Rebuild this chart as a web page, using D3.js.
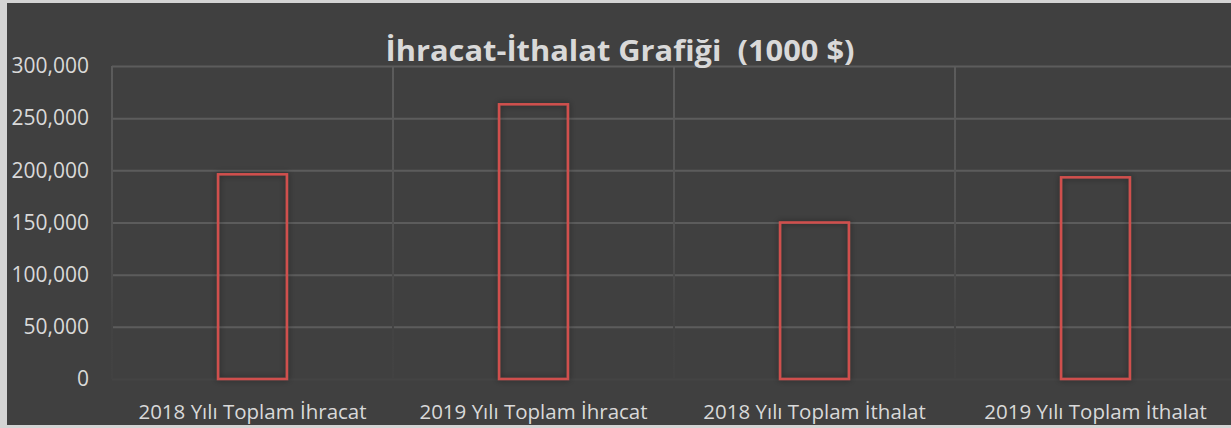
<!DOCTYPE html>
<html><head><meta charset="utf-8">
<script src="https://cdn.jsdelivr.net/npm/d3@7"></script>
<style>
html,body{margin:0;padding:0;background:#d4d4d4;}
svg{display:block;}
</style></head>
<body>
<svg id="chart" width="1231" height="428"></svg>
<script>
const title = "İhracat-İthalat Grafiği  (1000 $)";
const categories = ["2018 Yılı Toplam İhracat", "2019 Yılı Toplam İhracat", "2018 Yılı Toplam İthalat", "2019 Yılı Toplam İthalat"];
const values = [196200, 263300, 150000, 193300];
const yTicks = [0, 50000, 100000, 150000, 200000, 250000, 300000];

const svg = d3.select("#chart");
const W = 1231, H = 428;
const plot = {left: 112, right: 1236, top: 66, bottom: 379};
const font = "'Open Sans', 'Noto Sans', sans-serif";

const defs = svg.append("defs");
const grad = defs.append("linearGradient").attr("id", "gridFade")
  .attr("gradientUnits", "userSpaceOnUse")
  .attr("x1", 0).attr("y1", plot.top).attr("x2", 0).attr("y2", plot.bottom);
grad.append("stop").attr("offset", "0%").attr("stop-color", "#5c5c5c");
grad.append("stop").attr("offset", "50%").attr("stop-color", "#535353");
grad.append("stop").attr("offset", "67%").attr("stop-color", "#4b4b4b");
grad.append("stop").attr("offset", "84%").attr("stop-color", "#434343");
grad.append("stop").attr("offset", "100%").attr("stop-color", "#424242");
const flt = defs.append("filter").attr("id", "glow").attr("x", "-20%").attr("y", "-20%").attr("width", "140%").attr("height", "140%");
flt.append("feGaussianBlur").attr("in", "SourceAlpha").attr("stdDeviation", 3).attr("result", "b");
flt.append("feComponentTransfer").attr("in", "b").attr("result", "s")
  .append("feFuncA").attr("type", "linear").attr("slope", 0.5);
const mg = flt.append("feMerge");
mg.append("feMergeNode").attr("in", "s");
mg.append("feMergeNode").attr("in", "SourceGraphic");

// chart area background
svg.append("rect").attr("x", 7).attr("y", 3).attr("width", W - 7).attr("height", 422).attr("fill", "#404040");

const x = d3.scaleBand().domain(categories).range([plot.left, plot.right]).padding(0);
const y = d3.scaleLinear().domain([0, 300000]).range([plot.bottom, plot.top]);

// horizontal grid
const yAxis = d3.axisLeft(y).tickValues(yTicks).tickSize(-(plot.right - plot.left)).tickFormat(d3.format(","));
const gy = svg.append("g").attr("transform", `translate(${plot.left},0)`).call(yAxis);
gy.select(".domain").remove();
gy.selectAll(".tick line").attr("stroke", "url(#gridFade)").attr("stroke-width", 2);
gy.selectAll(".tick").filter(d => d === 0).select("line").attr("stroke", "#444444");
gy.selectAll(".tick text").attr("x", -23).attr("fill", "#d9d9d9")
  .style("font-family", font).style("font-size", "21px");

// vertical grid lines at category boundaries
const bounds = categories.map(c => x(c)).concat([plot.right]);
svg.append("g").selectAll("line").data(bounds).join("line")
  .attr("x1", d => d).attr("x2", d => d)
  .attr("y1", plot.top).attr("y2", plot.bottom)
  .attr("stroke", "url(#gridFade)").attr("stroke-width", 2);

// x axis labels
const xAxis = d3.axisBottom(x).tickSize(0);
const gx = svg.append("g").attr("transform", `translate(0,${plot.bottom})`).call(xAxis);
gx.select(".domain").remove();
gx.selectAll(".tick text").attr("y", 33).attr("dy", "0.32em").attr("fill", "#d9d9d9")
  .style("font-family", font).style("font-size", "20.5px");

// bars
const bw = x.bandwidth() * 0.245;
svg.append("g").selectAll("rect").data(values).join("rect")
  .attr("x", (d, i) => x(categories[i]) + (x.bandwidth() - bw) / 2)
  .attr("y", d => y(d))
  .attr("width", bw)
  .attr("height", d => y(0) - y(d))
  .attr("fill", "none")
  .attr("stroke", "#d0504d")
  .attr("stroke-width", 2.5)
  .attr("filter", "url(#glow)");

// title
svg.append("text").attr("x", 620).attr("y", 61).attr("text-anchor", "middle")
  .attr("fill", "#d9d9d9").style("font-family", font).style("font-weight", "bold")
  .style("font-size", "28px").style("white-space", "pre")
  .attr("textLength", 469).attr("lengthAdjust", "spacingAndGlyphs")
  .text(title);
</script>
</body></html>
